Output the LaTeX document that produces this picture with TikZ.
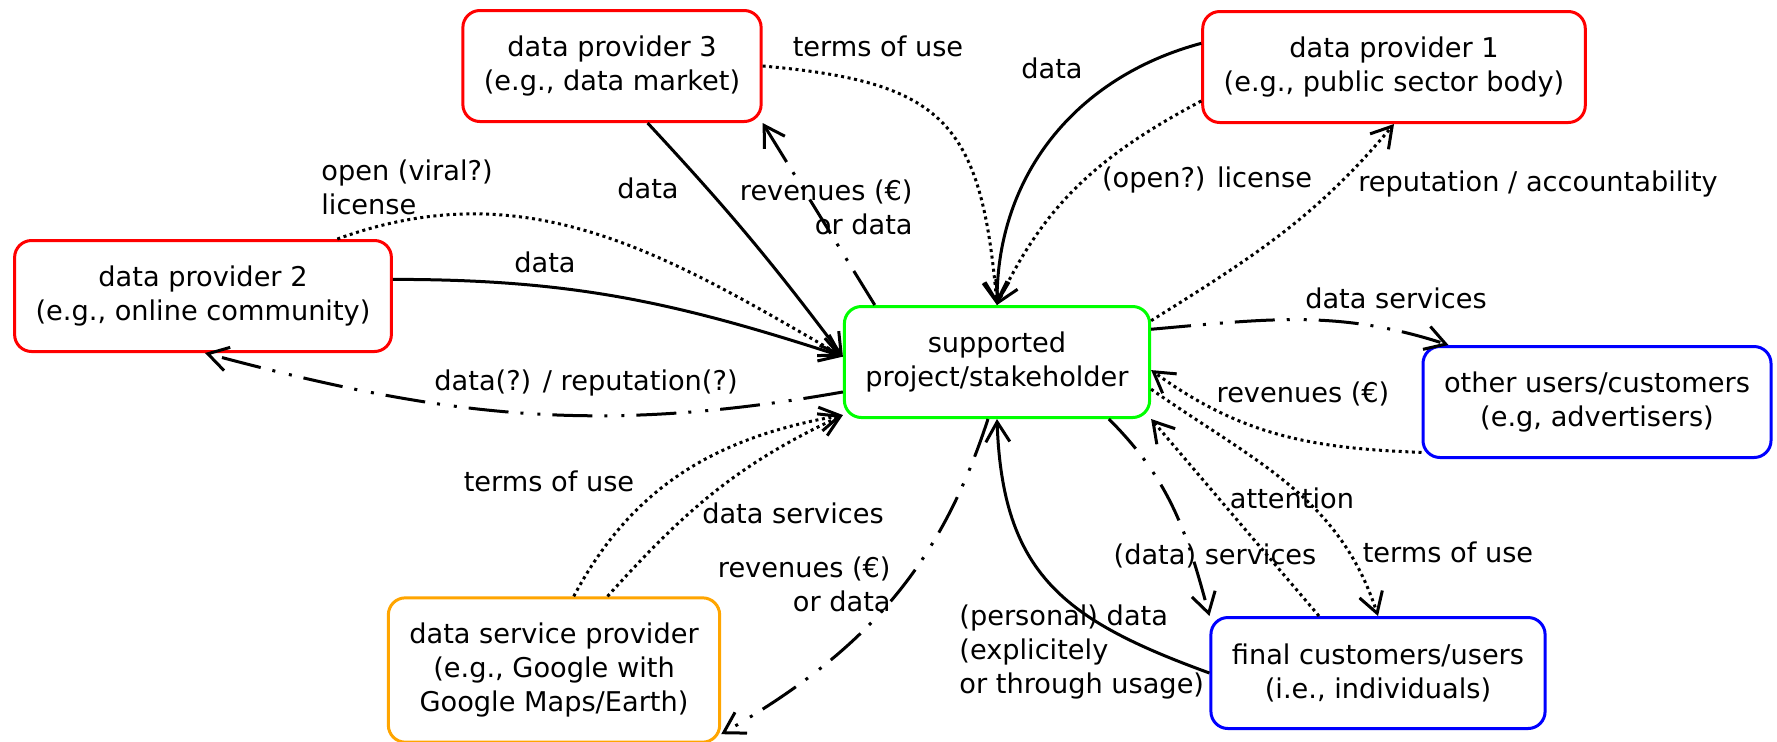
\documentclass[tikz,border=0pt]{standalone}
\usepackage{fontspec}
\setmainfont{DejaVu Sans}
\usetikzlibrary{arrows.meta}

\definecolor{provred}{RGB}{255,0,0}
\definecolor{projgreen}{RGB}{0,255,0}
\definecolor{custblue}{RGB}{0,0,255}
\definecolor{servorange}{RGB}{255,165,0}

\tikzstyle{actor} = [draw, rounded corners=8.5pt, line width=1.5pt, align=center, inner xsep=10.5pt, inner ysep=12.5pt, minimum height=55.5pt, font=\fontsize{13.6}{17}\selectfont]
\tikzstyle{provider} = [actor, draw=provred]
\tikzstyle{project} = [actor, draw=projgreen]
\tikzstyle{customer} = [actor, draw=custblue]
\tikzstyle{service} = [actor, draw=servorange]
\tikzstyle{lbl} = [inner sep=0pt, font=\fontsize{13.6}{17}\selectfont]
\tikzstyle{dataflow} = [line width=1.5pt, -{Straight Barb[length=10pt,width=12pt]}]
\tikzstyle{agreement} = [dataflow, dash pattern=on 1.5pt off 1.8pt]
\tikzstyle{payment} = [dataflow, dash pattern=on 20pt off 6pt on 1.5pt off 7pt on 1.5pt off 6pt]

\begin{document}
\begin{tikzpicture}[x=0.5pt, y=-0.5pt]
\useasboundingbox (0,0) rectangle (1777,741);

\node[provider] (dp3) at (612,66) {data provider 3\\(e.g., data market)};
\node[provider] (dp1) at (1394,67) {data provider 1\\(e.g., public sector body)};
\node[provider] (dp2) at (203,296) {data provider 2\\(e.g., online community)};
\node[project] (proj) at (997,362) {supported\\project/stakeholder};
\node[customer] (other) at (1597,402) {other users/customers\\(e.g, advertisers)};
\node[customer] (final) at (1378,673) {final customers/users\\(i.e., individuals)};
\node[service] (dsp) at (554,670) {data service provider\\(e.g., Google with\\Google Maps/Earth)};

% providers
\draw[dataflow] (dp3.-58) to[bend left=3] (proj.178);
\draw[payment] (proj.155) -- (dp3.south east);
\draw[agreement] (dp3.east) to[out=-5, in=95, looseness=1.4] (proj.north);
\draw[dataflow] (dp1.173) to[out=195, in=90] (proj.north);
\draw[agreement] (dp1.190) to[out=208, in=65] (proj.north);
\draw[agreement] (proj.15) to[out=32, in=230] (dp1.south);
\draw[dataflow] (dp2.5) to[out=0, in=162] (proj.178);
\draw[agreement] (dp2.23) to[out=20, in=150] (proj.178);
\draw[payment] (proj.191) to[out=190, in=-15] (dp2.-88);

% customers
\draw[payment] (proj.12) to[out=5, in=162] (other.159);
\draw[agreement] (other.196) to[out=178, in=-36] (proj.-3);
\draw[agreement] (final.136) -- (proj.south east);
\draw[agreement] (proj.-10) to[out=-35, in=108] (final.north);
\draw[payment] (proj.-27) to[out=-45, in=105] (final.north west);
\draw[dataflow] (final.west) to[out=160, in=-88, looseness=1.2] (proj.south);

% service provider
\draw[payment] (proj.-99) to[out=-108, in=30] (dsp.-21);
\draw[agreement] (dsp.75) to[out=62, in=190] (proj.199);
\draw[agreement] (dsp.54) to[out=48, in=205] (proj.199);

\node[lbl] (l-terms3) at (878,46) {terms of use};
\node[lbl] (l-data3) at (648,188) {data};
\node[lbl, anchor=east, align=right] (l-rev3) at (913,207) {revenues (€)\\or data};
\node[lbl] (l-data1) at (1052,68) {data};
\node[lbl] (l-lic1) at (1207,180) {(open?) license};
\node[lbl] (l-rep1) at (1538,184) {reputation / accountability};
\node[lbl, anchor=west, align=left] (l-lic2) at (321,187) {open (viral?)\\license};
\node[lbl] (l-data2) at (545,262) {data};
\node[lbl] (l-rep2) at (586,383) {data(?) / reputation(?)};
\node[lbl] (l-serv-o) at (1396,298) {data services};
\node[lbl] (l-rev-o) at (1303,394) {revenues (€)};
\node[lbl] (l-att) at (1292,498) {attention};
\node[lbl] (l-terms-f) at (1448,552) {terms of use};
\node[lbl] (l-serv-f) at (1215,556) {(data) services};
\node[lbl, anchor=west, align=left] (l-pers) at (959,652) {(personal) data\\(explicitely\\or through usage)};
\node[lbl, anchor=east, align=right] (l-rev-s) at (891,584) {revenues (€)\\or data};
\node[lbl] (l-terms-s) at (549,481) {terms of use};
\node[lbl] (l-serv-s) at (793,513) {data services};
\end{tikzpicture}
\end{document}
